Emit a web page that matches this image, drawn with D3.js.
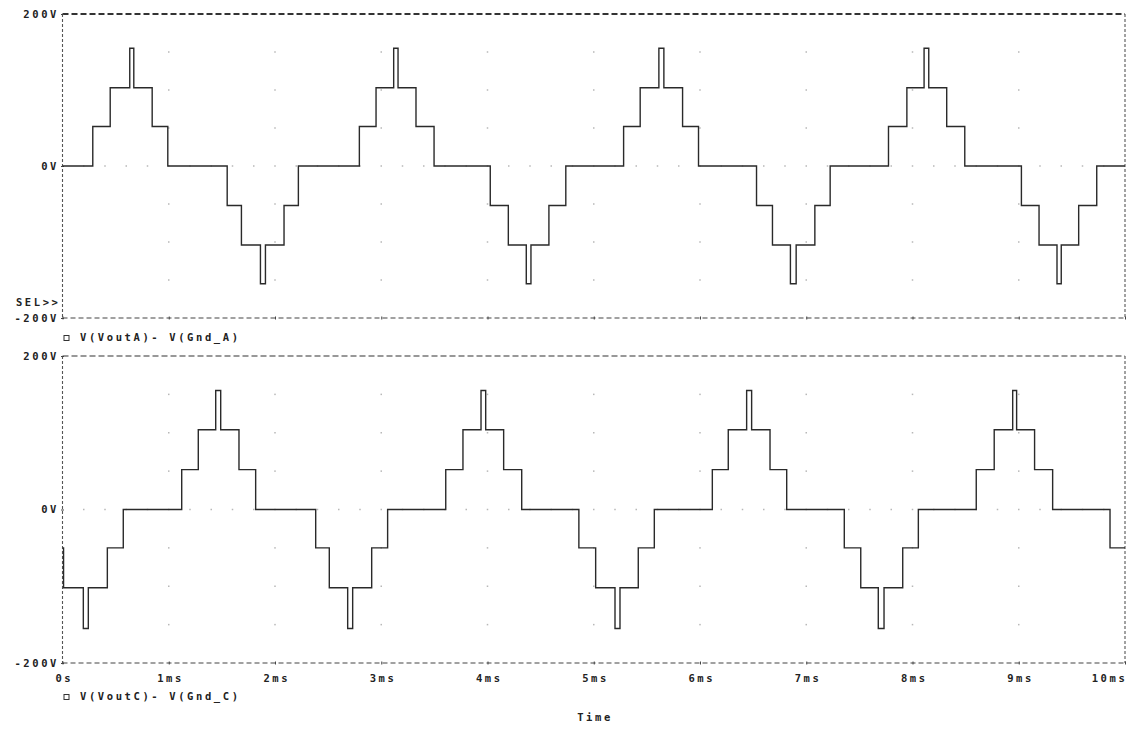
<!DOCTYPE html>
<html>
<head>
<meta charset="utf-8">
<script src="https://cdn.jsdelivr.net/npm/d3@7"></script>
<style>
  html, body { margin: 0; padding: 0; background: #fff; }
  svg { display: block; }
  text { font-family: "DejaVu Sans Mono", monospace; font-weight: bold; font-size: 10.5px; letter-spacing: 2.6px; fill: #222; }
</style>
</head>
<body>
<svg id="chart" width="1134" height="731"></svg>
<script>
// Transient result, two traces of a 7-level staircase inverter output.
// Each trace: switching instants (ms) and the level held after each instant (V).
const traceA = {
  name: "V(VoutA)- V(Gnd_A)",
  times: [0, 0.285, 0.449, 0.633, 0.671, 0.844, 0.991,
          1.550, 1.684, 1.863, 1.910, 2.085, 2.220,
          2.794, 2.951, 3.117, 3.158, 3.327, 3.497,
          4.026, 4.196, 4.365, 4.409, 4.578, 4.737,
          5.281, 5.437, 5.613, 5.660, 5.836, 5.986,
          6.532, 6.682, 6.851, 6.905, 7.081, 7.225,
          7.774, 7.947, 8.109, 8.153, 8.322, 8.492,
          9.025, 9.191, 9.360, 9.400, 9.564, 9.734, 10],
  volts: [0, 52, 103, 155, 103, 52, 0,
          -52, -104, -155, -104, -52, 0,
          52, 103, 155, 103, 52, 0,
          -52, -104, -155, -104, -52, 0,
          52, 103, 155, 103, 52, 0,
          -52, -104, -155, -104, -52, 0,
          52, 103, 155, 103, 52, 0,
          -52, -104, -155, -104, -52, 0, 0]
};

const traceC = {
  name: "V(VoutC)- V(Gnd_C)",
  times: [0, 0.01, 0.196, 0.243, 0.422, 0.572,
          1.122, 1.278, 1.442, 1.489, 1.661, 1.818,
          2.383, 2.511, 2.684, 2.731, 2.910, 3.060,
          3.607, 3.769, 3.939, 3.983, 4.152, 4.322,
          4.860, 5.018, 5.200, 5.247, 5.419, 5.570,
          6.116, 6.266, 6.439, 6.486, 6.659, 6.816,
          7.358, 7.513, 7.678, 7.732, 7.908, 8.055,
          8.600, 8.769, 8.943, 8.980, 9.149, 9.319,
          9.859, 10],
  volts: [-50, -102, -155, -102, -50, 0,
          52, 104, 155, 104, 52, 0,
          -50, -102, -155, -102, -50, 0,
          52, 104, 155, 104, 52, 0,
          -50, -102, -155, -102, -50, 0,
          52, 104, 155, 104, 52, 0,
          -50, -102, -155, -102, -50, 0,
          52, 104, 155, 104, 52, 0,
          -50, -50]
};

const timeTicks = [0, 1, 2, 3, 4, 5, 6, 7, 8, 9, 10];
const timeTickLabels = ["0s", "1ms", "2ms", "3ms", "4ms", "5ms", "6ms", "7ms", "8ms", "9ms", "10ms"];
const voltTicks = [-200, 0, 200];
const voltTickLabels = ["-200V", "0V", "200V"];
const gridVolts = [-150, -100, -50, 0, 50, 100, 150];

const svg = d3.select("#chart");
const x = d3.scaleLinear().domain([0, 10]).range([62.5, 1125]);

const panels = [
  { trace: traceA, top: 14, bottom: 318, sel: true },
  { trace: traceC, top: 356, bottom: 663, sel: false, timeAxis: true }
];

function styleText(sel) {
  sel.attr("fill", "#222").style("font-size", "10.5px").style("letter-spacing", "2.6px")
    .style("font-family", "'DejaVu Sans Mono', monospace").style("font-weight", "bold");
}

panels.forEach(p => {
  const y = d3.scaleLinear().domain([-200, 200]).range([p.bottom, p.top]);
  const g = svg.append("g");
  const x0 = x.range()[0], x1 = x.range()[1];

  // dotted grid: dots on each ms line, and along the 0V line
  const dots = [];
  timeTicks.slice(1, -1).forEach(t => gridVolts.forEach(v => dots.push([t, v])));
  d3.range(1, 50).forEach(i => { const t = i * 0.2; if (Math.abs(t - Math.round(t)) > 0.01) dots.push([t, 0]); });
  g.append("g").selectAll("rect").data(dots).join("rect")
    .attr("x", d => x(d[0]) - 0.75).attr("y", d => y(d[1]) - 0.75)
    .attr("width", 1.5).attr("height", 1.5).attr("fill", "#b8b8b8");

  // dashed frame
  g.append("line").attr("x1", x0).attr("x2", x1).attr("y1", p.top).attr("y2", p.top)
    .attr("stroke", "#333").attr("stroke-width", p.sel ? 1.8 : 1.1).attr("stroke-dasharray", "6,3");
  g.append("line").attr("x1", x0).attr("x2", x1).attr("y1", p.bottom).attr("y2", p.bottom)
    .attr("stroke", "#444").attr("stroke-width", 1.1).attr("stroke-dasharray", "5,3");
  g.append("line").attr("x1", x0).attr("x2", x0).attr("y1", p.top).attr("y2", p.bottom)
    .attr("stroke", "#555").attr("stroke-width", 1.1).attr("stroke-dasharray", "3,2");
  g.append("line").attr("x1", x1).attr("x2", x1).attr("y1", p.top).attr("y2", p.bottom)
    .attr("stroke", "#555").attr("stroke-width", 1.1).attr("stroke-dasharray", "3,2");

  // voltage axis
  const yAxis = d3.axisLeft(y).tickValues(voltTicks)
    .tickFormat((d, i) => voltTickLabels[i]).tickSize(3).tickPadding(2);
  const ya = g.append("g").attr("transform", `translate(${x0 + 1.5},0)`).call(yAxis);
  ya.select(".domain").remove();
  ya.selectAll(".tick line").attr("stroke", "#444");
  styleText(ya.selectAll(".tick text"));

  if (p.sel) {
    g.append("text").attr("x", x0 - 2).attr("y", p.bottom - 15)
      .attr("text-anchor", "end").attr("dominant-baseline", "middle").text("SEL>>");
  }

  // time axis ticks on each frame's bottom edge
  const xAxis = d3.axisBottom(x).tickValues(timeTicks)
    .tickFormat((d, i) => timeTickLabels[i]).tickSize(3).tickPadding(10);
  const xa = g.append("g").attr("transform", `translate(0,${p.bottom - 1.5})`).call(xAxis);
  xa.select(".domain").remove();
  xa.selectAll(".tick line").attr("stroke", "#444");
  const xt = xa.selectAll(".tick text");
  styleText(xt);
  xt.attr("display", p.timeAxis ? null : "none")
    .attr("dx", d => (d === 10 ? "-16" : "1.3"));

  // waveform
  const pts = p.trace.times.map((t, i) => [t, p.trace.volts[i]]);
  const line = d3.line().x(d => x(d[0])).y(d => y(d[1])).curve(d3.curveStepAfter);
  g.append("path").datum(pts).attr("d", line)
    .attr("fill", "none").attr("stroke", "#2a2a2a").attr("stroke-width", 1.4);

  // legend
  const ly = p.bottom + (p.timeAxis ? 34 : 20);
  g.append("rect").attr("x", 64).attr("y", ly - 2.5).attr("width", 5).attr("height", 5)
    .attr("fill", "none").attr("stroke", "#333").attr("stroke-width", 1);
  g.append("text").attr("x", 80).attr("y", ly).attr("dominant-baseline", "middle").text(p.trace.name);

  if (p.timeAxis) {
    g.append("text").attr("x", x(5) + 1.3).attr("y", 718).attr("text-anchor", "middle")
      .attr("dominant-baseline", "middle").text("Time");
  }
});
</script>
</body>
</html>
